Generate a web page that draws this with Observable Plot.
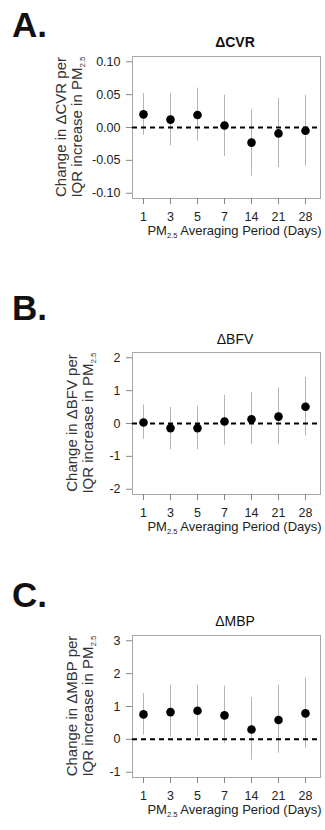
<!DOCTYPE html>
<html>
<head>
<meta charset="utf-8">
<script src="https://cdn.jsdelivr.net/npm/d3@7"></script>
<script src="https://cdn.jsdelivr.net/npm/@observablehq/plot@0.6"></script>
<style>
  html, body { margin: 0; padding: 0; background: #fff; }
  #wrap { width: 325px; }
  .panel svg { display: block; }
</style>
</head>
<body>
<div id="wrap"></div>
<script>
// ---- data ----
const periods = ["1", "3", "5", "7", "14", "21", "28"];

const cvrEst = [0.020, 0.012, 0.019, 0.003, -0.023, -0.009, -0.005];
const cvrLo  = [-0.012, -0.028, -0.021, -0.044, -0.074, -0.061, -0.059];
const cvrHi  = [0.052, 0.052, 0.060, 0.049, 0.027, 0.044, 0.049];

const bfvEst = [0.03, -0.14, -0.14, 0.06, 0.13, 0.21, 0.51];
const bfvLo  = [-0.48, -0.80, -0.80, -0.66, -0.65, -0.65, -0.38];
const bfvHi  = [0.56, 0.49, 0.52, 0.85, 0.95, 1.08, 1.40];

const mbpEst = [0.76, 0.83, 0.87, 0.73, 0.30, 0.59, 0.79];
const mbpLo  = [0.13, 0.07, 0.07, -0.13, -0.63, -0.42, -0.27];
const mbpHi  = [1.40, 1.65, 1.65, 1.62, 1.27, 1.65, 1.87];

const cvrTicks = [-0.10, -0.05, 0.00, 0.05, 0.10];
const bfvTicks = [-2, -1, 0, 1, 2];
const mbpTicks = [-1, 0, 1, 2, 3];

const panelLetters = ["A.", "B.", "C."];
const panelTitles = ["\u0394CVR", "\u0394BFV", "\u0394MBP"];
const yLabelLine1 = ["Change in \u0394CVR per", "Change in \u0394BFV per", "Change in \u0394MBP per"];
const yLabelLine2 = "IQR increase in PM";
const subscript = "2.5";
const xLabelMain = "PM";
const xLabelRest = " Averaging Period (Days)";

// ---- layout per panel ----
const FONT = "'Liberation Sans', Arial, Helvetica, sans-serif";
const panels = [
  {est: cvrEst, lo: cvrLo, hi: cvrHi, ticks: cvrTicks, domain: [-0.108, 0.108], fmt: d => d.toFixed(2),
   H: 283, T: 56, letterY: 37, titleY: 47, titleBold: true, yl1: 66, yl2: 82},
  {est: bfvEst, lo: bfvLo, hi: bfvHi, ticks: bfvTicks, domain: [-2.16, 2.16], fmt: d => String(d),
   H: 287, T: 69, letterY: 37, titleY: 61, titleBold: false, yl1: 77, yl2: 93},
  {est: mbpEst, lo: mbpLo, hi: mbpHi, ticks: mbpTicks, domain: [-1.16, 3.16], fmt: d => String(d),
   H: 260, T: 65, letterY: 37, titleY: 56, titleBold: false, yl1: 77, yl2: 93}
];

const FRAME_H = 142;
const ML = 132, MR = 5;
const wrap = document.getElementById("wrap");

panels.forEach((p, i) => {
  const rows = periods.map((per, j) => ({period: per, est: p.est[j], lo: p.lo[j], hi: p.hi[j]}));
  const MB = p.H - p.T - FRAME_H;
  const chart = Plot.plot({
    width: 325,
    height: p.H,
    marginLeft: ML,
    marginRight: MR,
    marginTop: p.T,
    marginBottom: MB,
    style: {fontFamily: FONT, fontSize: "12.5px", color: "#222", background: "#fff"},
    x: {type: "point", domain: periods, padding: 0, label: null},
    y: {domain: p.domain, label: null},
    insetLeft: 8,
    insetRight: 13,
    marks: [
      Plot.frame({stroke: "#a8a8a8", strokeWidth: 1}),
      Plot.axisX({ticks: periods, tickSize: 6, tickPadding: 8, stroke: "#888", fill: "#222", label: null}),
      Plot.axisY({ticks: p.ticks, tickFormat: p.fmt, tickSize: 6, tickPadding: 6, stroke: "#888", fill: "#222", label: null}),
      Plot.ruleX(rows, {x: "period", y1: "lo", y2: "hi", stroke: "#b5b5b5", strokeWidth: 1}),
      Plot.ruleY([0], {stroke: "#000", strokeWidth: 2, strokeDasharray: "5,4"}),
      Plot.dot(rows, {x: "period", y: "est", r: 4.3, fill: "#000", stroke: "none"})
    ]
  });

  const svg = d3.select(chart);
  // panel letter
  svg.append("text")
    .attr("x", 12).attr("y", p.letterY)
    .attr("text-anchor", "start")
    .attr("font-family", FONT).attr("font-size", 35).attr("font-weight", "bold")
    .attr("fill", "#111").text(panelLetters[i]);

  // title
  svg.append("text")
    .attr("x", 235).attr("y", p.titleY)
    .attr("text-anchor", "middle")
    .attr("font-family", FONT).attr("font-size", 14)
    .attr("font-weight", p.titleBold ? "bold" : "normal")
    .attr("fill", "#111").text(panelTitles[i]);

  // y label (two rotated lines)
  const cy = p.T + FRAME_H / 2;
  svg.append("text")
    .attr("transform", `translate(${p.yl1},${cy}) rotate(-90)`)
    .attr("text-anchor", "middle")
    .attr("font-family", FONT).attr("font-size", 15).attr("fill", "#333")
    .text(yLabelLine1[i]);
  const t2 = svg.append("text")
    .attr("transform", `translate(${p.yl2},${cy}) rotate(-90)`)
    .attr("text-anchor", "middle")
    .attr("font-family", FONT).attr("font-size", 15).attr("fill", "#333");
  t2.append("tspan").text(yLabelLine2);
  t2.append("tspan").attr("font-size", 8).attr("dy", 3).text(subscript);

  // x label
  const xl = svg.append("text")
    .attr("x", 234.5).attr("y", p.T + FRAME_H + 37)
    .attr("text-anchor", "middle")
    .attr("font-family", FONT).attr("font-size", 13).attr("fill", "#222");
  xl.append("tspan").text(xLabelMain);
  xl.append("tspan").attr("font-size", 7.5).attr("dy", 3).text(subscript);
  xl.append("tspan").attr("dy", -3).text(xLabelRest);

  const div = document.createElement("div");
  div.className = "panel";
  div.appendChild(chart);
  wrap.appendChild(div);
});
</script>
</body>
</html>
